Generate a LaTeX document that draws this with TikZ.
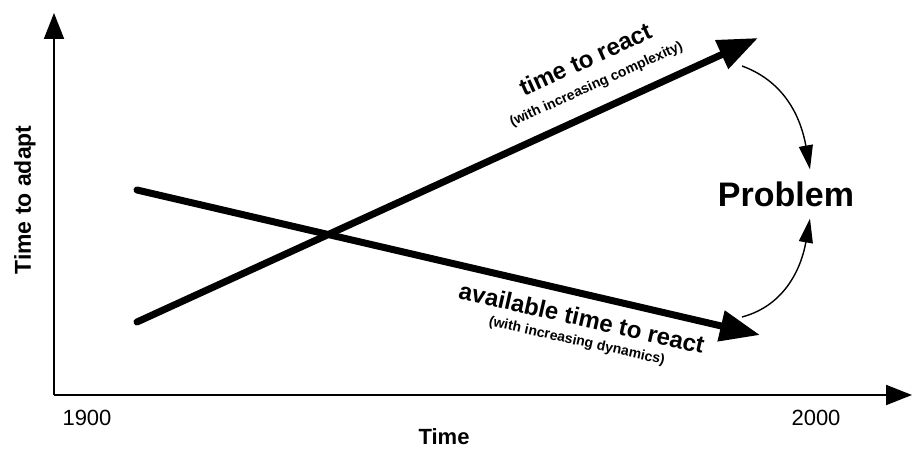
\documentclass[tikz,border=0pt]{standalone}
\usepackage{fontspec}
\setmainfont{Liberation Sans}
\usetikzlibrary{arrows.meta}
\tikzset{
  axis/.style={line width=2pt, -{Triangle[length=26pt,width=20pt]}},
  bigarrow/.style={line width=7pt, line cap=round, -{Triangle[length=40pt,width=30pt]}},
  curvearrow/.style={line width=1.4pt, -{Triangle[length=24pt,width=14pt]}},
  lbl/.style={inner sep=0pt, font=\fontsize{22}{26}\selectfont},
  bold22/.style={inner sep=0pt, font=\fontsize{22}{26}\selectfont\bfseries},
  title/.style={inner sep=0pt, anchor=base, font=\fontsize{24}{28}\selectfont\bfseries},
  subtitle/.style={inner sep=0pt, anchor=base, font=\fontsize{14}{17}\selectfont\bfseries},
}
\begin{document}
\begin{tikzpicture}[x=1pt,y=1pt]
\useasboundingbox (0,0) rectangle (913,450);
% axes
\coordinate (O) at (54,55);
\coordinate (ytip) at (54,437);
\coordinate (xtip) at (912,55);
\draw[axis] (O) -- (ytip);
\draw[axis] (O) -- (xtip);
\node[lbl] (y1900) at (87,32) {1900};
\node[lbl] (y2000) at (816,32) {2000};
\node[bold22] (xlabel) at (444,13) {Time};
\node[inner sep=0pt, font=\fontsize{23}{27}\selectfont\bfseries, rotate=90] (ylabel) at (25,250) {Time to adapt};
% big arrows
\coordinate (a1) at (137,128);
\coordinate (a2) at (758,412);
\coordinate (b1) at (137,260);
\coordinate (b2) at (760,115);
\draw[bigarrow] (a1) -- (a2);
\draw[bigarrow] (b1) -- (b2);
% labels on arrows
\node[title, rotate=24.4] (t1) at (589,383) {time to react};
\node[subtitle, rotate=24.4] (s1) at (598,362) {(with increasing complexity)};
\node[title, rotate=-12.8] (t2) at (580,124) {available time to react};
\node[subtitle, rotate=-12.5] (s2) at (576,105) {(with increasing dynamics)};
% problem
\node[inner xsep=0pt, inner ysep=12pt, font=\fontsize{34}{40}\selectfont\bfseries] (prob) at (786,256) {Problem};
\coordinate (c1) at (742,384);
\coordinate (c2) at (742,133);
\draw[curvearrow] (c1) to[out=-20, in=100] ([xshift=24pt]prob.north);
\draw[curvearrow] (c2) to[out=15, in=-100] ([xshift=24pt]prob.south);
\end{tikzpicture}
\end{document}
